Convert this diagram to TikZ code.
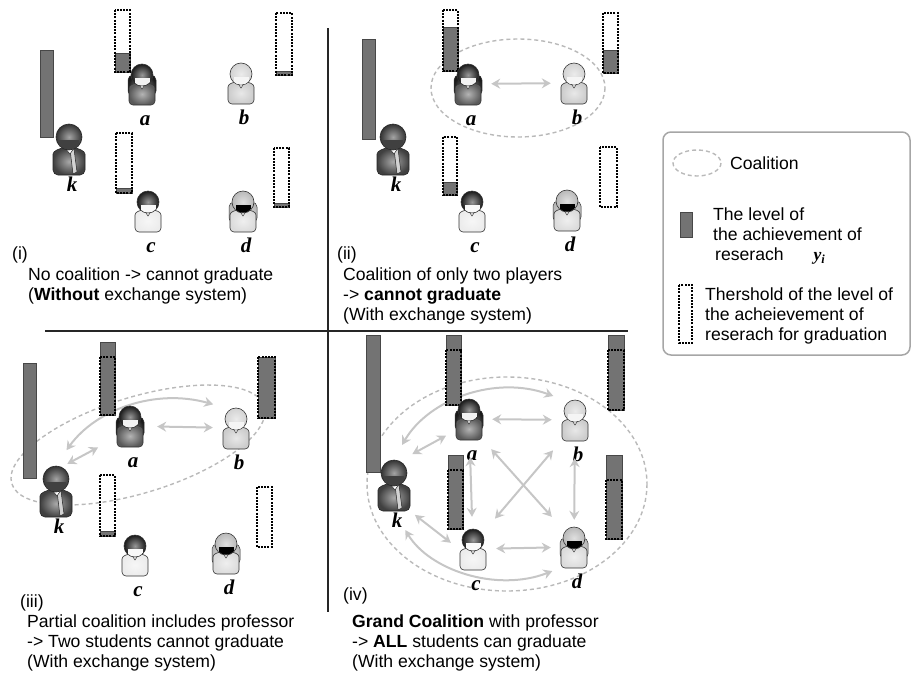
\documentclass[tikz,border=0pt]{standalone}
\usepackage{fontspec}
\setmainfont{Liberation Sans}
\newfontfamily\labfont{Liberation Serif}
\usetikzlibrary{arrows.meta}
\newcommand\capfont{\fontsize{17.6}{20}\selectfont}
\tikzset{
  level/.style={fill=black!55,draw=black!72,line width=1pt},
  thresh/.style={draw=black,line width=2.2pt,dash pattern=on 2pt off 1.2pt},
  coalition/.style={draw=gray!55,line width=1.4pt,dash pattern=on 4pt off 3pt},
  link/.style={<->,draw=gray!45,line width=2pt,shorten <=9pt,shorten >=9pt},
  divider/.style={line width=2pt,black!85},
  student/.style={minimum width=28pt,minimum height=42pt,inner sep=0pt},
  prof/.style={minimum width=32pt,minimum height=52pt,inner sep=0pt},
  tag/.style={font=\fontsize{21}{21}\labfont\bfseries\itshape,anchor=base,xshift=3pt,inner sep=0pt},
  caption/.style={font=\capfont,align=left,anchor=north west,inner sep=0pt},
  num/.style={font=\capfont,anchor=west,inner sep=0pt},
  glossy/.style={/utils/exec={\colorlet{glosscol}{#1}},
    inner color=glosscol!45!white,outer color=glosscol},
  % a student seen from the front: hair, face, body, bottom of long hair (0 = short)
  pics/student/.style n args={4}{code={
    \ifnum#4>0
      \path[glossy=#1,draw=black!80,line width=.5pt,rounded corners=5pt]
        (-14,-9) -- (-14,#4) -- (14,#4) -- (14,-9) -- cycle;
    \fi
    \path[glossy=#3,draw=black!80,line width=.6pt,rounded corners=4pt]
      (-13,21) -- (-13,8) .. controls (-13,1) and (-8,-1) .. (0,-1)
      .. controls (8,-1) and (13,1) .. (13,8) -- (13,21) -- cycle;
    \path[fill=white,draw=black!80,line width=.5pt] (-4,-1) -- (0,5) -- (4,-1) -- cycle;
    \path[glossy=#1,draw=black!80,line width=.6pt] (0,-9) circle (11);
    \begin{scope}
      \clip (0,-9) circle (10.6);
      \fill[#2] (-7,-6) rectangle (8,4);
    \end{scope}
  }},
  pics/professor/.style={code={
    \path[glossy=black!75,draw=black!85,line width=.6pt,rounded corners=5pt]
      (-16,26) -- (-16,10) .. controls (-16,2) and (-9,-1) .. (0,-1)
      .. controls (9,-1) and (16,2) .. (16,10) -- (16,26) -- cycle;
    \path[fill=gray!35,draw=black!85,line width=.5pt] (1,0) -- (5,0) -- (8,23) -- (4,25) -- cycle;
    \path[fill=white,draw=black!85,line width=.5pt] (-4,-1) -- (1,5) -- (5,-1) -- cycle;
    \path[glossy=black!80,draw=black!85,line width=.6pt] (0,-12) circle (13);
    \begin{scope}
      \clip (0,-12) circle (12.6);
      \fill[black!75] (-10,-9) rectangle (10,2);
    \end{scope}
  }}
}
\begin{document}
\begin{tikzpicture}[x=1pt,y=-1pt,>={Stealth[length=9pt,width=10pt,inset=3pt]}]
  \useasboundingbox (0,0) rectangle (914,675);

  % panel borders
  \draw[divider] (328,28) -- (328,612);
  \draw[divider] (45,331) -- (628,331);

  % coalitions
  \draw[coalition] (518,88) ellipse [x radius=87,y radius=49];
  \draw[coalition,rotate around={17:(138,445)}] (138,445) ellipse [x radius=132,y radius=48];
  \draw[coalition] (507,484) ellipse [x radius=140,y radius=107];

  % players k,a,b,c,d of panels 1..4
  \foreach \n/\kx/\ky/\ax/\ay/\bx/\by/\cx/\cy/\dx/\dy in {
    1/69/149/142/84/241/83/148/211/243/211,
    2/393/149/468/84/574/83/472/211/567/210,
    3/56/491/130/426/236/428/135/555/226/553,
    4/394/485/469/419/575/420/473/549/574/547}{
      \node[prof,label={[tag,label distance=16pt]below:k}] (k\n) at (\kx,\ky) {};
      \node[student,label={[tag,label distance=20pt]below:a}] (a\n) at (\ax,\ay) {};
      \node[student,label={[tag,label distance=20pt]below:b}] (b\n) at (\bx,\by) {};
      \node[student,label={[tag,label distance=20pt]below:c}] (c\n) at (\cx,\cy) {};
      \node[student,label={[tag,label distance=20pt]below:d}] (d\n) at (\dx,\dy) {};
  }

  % exchanges
  \draw[link] (a2) -- (b2);
  \draw[link,shorten <=13pt] (a3) -- (b3);
  \draw[link,shorten <=2pt,shorten >=20pt] (k3.70) -- (a3.220);
  \draw[link,shorten <=18pt] (k3.north) to[bend left=35] (b3.north west);
  \draw[link] (a4) -- (b4);
  \draw[link] (c4) -- (d4);
  \draw[link,shorten <=17pt,shorten >=11pt] (a4) -- (c4);
  \draw[link,shorten <=17pt,shorten >=6pt] (b4) -- (d4);
  \draw[link,shorten <=12pt,shorten >=12pt] (a4.south east) -- (d4.north west);
  \draw[link,shorten <=12pt,shorten >=12pt] (b4.south west) -- (c4.north east);
  \draw[link,shorten <=10pt,shorten >=10pt] (k4.70) -- (a4.220);
  \draw[link,shorten <=6pt,shorten >=10pt] (k4.south east) -- (c4.west);
  \draw[link,shorten <=16pt,shorten >=8pt] (k4.north) to[bend left=40] (b4.north west);
  \draw[link,shorten <=22pt,shorten >=8pt] (k4.south) to[bend right=40] (d4.south west);

  % research levels
  \foreach \xa/\ya/\xb/\yb in {
    40/50/53/137, 115/53/130/72, 276/71/292/75, 116/188/132/193, 274/203/289/207,
    362/39/375/139, 443/27/458/71, 603/50/618/73, 443/182/457/195,
    23/363/36/478, 100/342/115/415, 258/357/275/418, 100/531/115/536,
    366/335/380/472, 446/335/461/405, 608/335/624/410, 448/455/463/529, 606/455/622/539}
    \path[level] (\xa,\ya) rectangle (\xb,\yb);
  % graduation thresholds
  \foreach \xa/\ya/\xb/\yb in {
    115/10/130/72, 276/13/292/75, 116/133/132/193, 274/148/289/207,
    443/10/458/71, 603/13/618/73, 443/137/457/195, 600/147/617/207,
    100/357/115/415, 258/357/275/418, 100/475/115/536, 257/487/272/547,
    446/350/461/405, 608/350/624/410, 448/470/463/529, 606/480/622/539}
    \path[thresh] (\xa,\ya) rectangle (\xb,\yb);

  \foreach \n in {1,2,3,4}{
    \pic at (k\n) {professor};
    \pic at (a\n) {student={black!90}{gray!10}{black!65}{12}};
    \pic at (b\n) {student={gray!35}{gray!8}{gray!40}{0}};
    \pic at (c\n) {student={black!90}{gray!5}{gray!15}{0}};
    \pic at (d\n) {student={gray!55}{black}{gray!28}{12}};
  }

  % captions
  \node[num] (numi) at (12,255) {(i)};
  \node[caption] (capi) at (28,268) {No coalition -> cannot graduate\\(\textbf{Without} exchange system)};
  \node[num] (numii) at (337,255) {(ii)};
  \node[caption] (capii) at (343,268) {Coalition of only two players\\-> \textbf{cannot graduate}\\(With exchange system)};
  \node[num] (numiii) at (20,603) {(iii)};
  \node[caption] (capiii) at (27,615) {Partial coalition includes professor\\-> Two students cannot graduate\\(With exchange system)};
  \node[num] (numiv) at (343,596) {(iv)};
  \node[caption] (capiv) at (352,615) {\textbf{Grand Coalition} with professor\\-> \textbf{ALL} students can graduate\\(With exchange system)};

  % legend
  \draw[gray!70,line width=1.5pt,rounded corners=8pt] (663,132) rectangle (910,355);
  \draw[coalition] (697,163) ellipse [x radius=24,y radius=13];
  \node[num] (lcoal) at (730,163) {Coalition};
  \path[level] (680,212) rectangle (692,237);
  \node[caption] (llevel) at (713,208) {The level of\\the achievement of\\\hspace*{2pt}reserach\hspace{30pt}{\labfont\bfseries\itshape y\textsubscript{i}}};
  \path[thresh] (679,285) rectangle (692,343);
  \node[caption] (lthresh) at (705,288) {Thershold of the level of\\the acheievement of\\reserach for graduation};
\end{tikzpicture}
\end{document}
